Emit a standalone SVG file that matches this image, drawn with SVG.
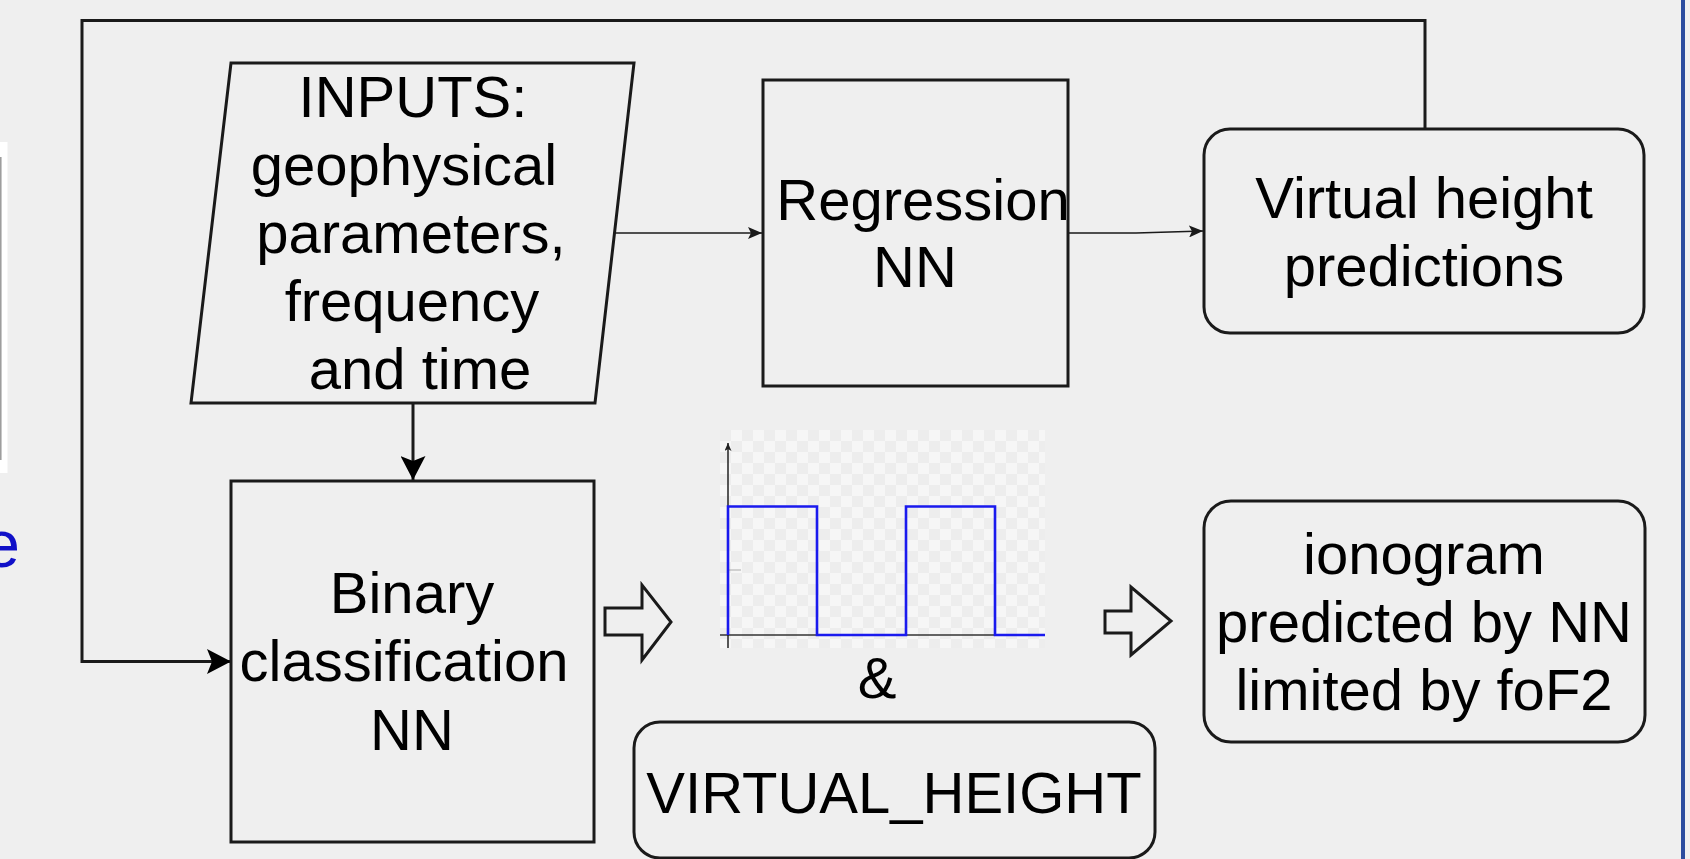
<svg xmlns="http://www.w3.org/2000/svg" width="1690" height="859" viewBox="0 0 1690 859">
<style>
.bg{fill:#efefef}
.box{fill:none;stroke:#1a1a1a;stroke-width:3}
.lbl{font-family:"Liberation Sans",Arial,sans-serif;font-size:58px;fill:#000;text-anchor:middle}
.con{fill:none;stroke:#1a1a1a}
.thick{stroke-width:3}
.thin{stroke-width:1.6}
</style>
<defs>
<marker id="big" markerUnits="userSpaceOnUse" viewBox="0 0 24 25" refX="24" refY="12.5" markerWidth="24" markerHeight="25" orient="auto">
<path d="M0,0 L24,12.5 L0,25 L5,12.5 Z" fill="#000"/>
</marker>
<marker id="small" markerUnits="userSpaceOnUse" viewBox="0 0 14 12" refX="14" refY="6" markerWidth="14" markerHeight="12" orient="auto">
<path d="M0,0 L14,6 L0,12 L3,6 Z" fill="#1a1a1a"/>
</marker>
<marker id="axis" markerUnits="userSpaceOnUse" viewBox="0 0 8 7" refX="8" refY="3.5" markerWidth="8" markerHeight="7" orient="auto">
<path d="M0,0 L8,3.5 L0,7 L2,3.5 Z" fill="#222"/>
</marker>
<pattern id="checker" patternUnits="userSpaceOnUse" x="720" y="430" width="22" height="22">
<rect width="22" height="22" fill="#f6f6f6"/>
<rect width="11" height="11" fill="#ededed"/>
<rect x="11" y="11" width="11" height="11" fill="#ededed"/>
</pattern>
</defs>
<rect class="bg" x="0" y="0" width="1690" height="859"/>
<rect x="1681" y="0" width="4" height="859" fill="#2b4c9e"/>
<g id="left-edge">
<rect x="0" y="142" width="7.5" height="331" fill="#ffffff"/>
<line x1="0.8" y1="157" x2="0.8" y2="460" stroke="#999" stroke-width="1.5"/>
<text x="20" y="567" font-family="'Liberation Sans',Arial,sans-serif" font-size="66" fill="#1010c8" text-anchor="end">e</text>
</g>
<g id="connectors">
<path class="con thick" d="M1425,128 V20.5 H82 V661.5 H231" marker-end="url(#big)"/>
<path class="con thick" d="M413,403 V480" marker-end="url(#big)"/>
<path class="con thin" d="M615,233 H762" marker-end="url(#small)"/>
<path class="con thin" d="M1069,233 H1136 L1203,231" marker-end="url(#small)"/>
<path class="box" d="M605,608 H642 V585 L671,622 L642,660 V635 H605 Z"/>
<path class="box" d="M1105,611 H1131 V587 L1171,621 L1131,655 V633 H1105 Z"/>
</g>
<g id="inputs">
<polygon class="box" points="231,63 634,63 595,403 191,403"/>
<text class="lbl" x="413" y="117">INPUTS:</text>
<text class="lbl" x="404" y="185">geophysical</text>
<text class="lbl" x="411" y="253">parameters,</text>
<text class="lbl" x="412" y="321">frequency</text>
<text class="lbl" x="420" y="389">and time</text>
</g>
<g id="regression">
<rect class="box" x="763" y="80" width="305" height="306"/>
<text class="lbl" x="923" y="220">Regression</text>
<text class="lbl" x="915" y="287">NN</text>
</g>
<g id="virtual-height-predictions">
<rect class="box" x="1204" y="129" width="440" height="204" rx="26" ry="26"/>
<text class="lbl" x="1424" y="218">Virtual height</text>
<text class="lbl" x="1424" y="286">predictions</text>
</g>
<g id="binary">
<rect class="box" x="231" y="481" width="363" height="361"/>
<text class="lbl" x="412" y="613">Binary</text>
<text class="lbl" x="404" y="681">classification</text>
<text class="lbl" x="412" y="750">NN</text>
</g>
<g id="chart">
<rect x="720" y="430" width="325" height="218" fill="url(#checker)"/>
<line x1="720" y1="635" x2="1045" y2="635" stroke="#333" stroke-width="1.5"/>
<line x1="728" y1="648" x2="728" y2="443" stroke="#222" stroke-width="1.5" marker-end="url(#axis)"/>
<line x1="728" y1="570" x2="741" y2="570" stroke="#aaa" stroke-width="1"/>
<polyline points="728,635 728,506.5 817,506.5 817,635 906,635 906,506.5 995,506.5 995,635 1045,635" fill="none" stroke="#1a1aee" stroke-width="2.6"/>
<text class="lbl" x="877" y="698">&amp;</text>
</g>
<g id="virtual-height">
<rect class="box" x="634" y="722" width="521" height="136" rx="26" ry="26"/>
<text class="lbl" x="894" y="813">VIRTUAL_HEIGHT</text>
</g>
<g id="ionogram">
<rect class="box" x="1204" y="501" width="441" height="241" rx="27" ry="27"/>
<text class="lbl" x="1424" y="574">ionogram</text>
<text class="lbl" x="1424" y="642">predicted by NN</text>
<text class="lbl" x="1424" y="710">limited by foF2</text>
</g>
</svg>
